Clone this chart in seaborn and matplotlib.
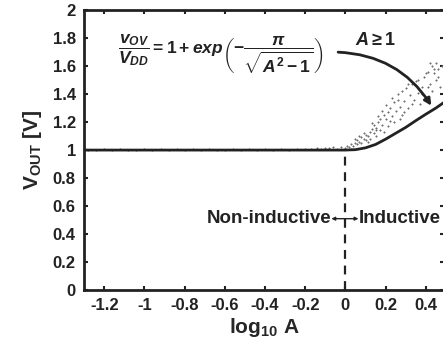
import numpy as np
import pandas as pd
import matplotlib
matplotlib.use('Agg')
import matplotlib.pyplot as plt
import seaborn as sns

# analytic curve, values
curve_x = [-1.3, -0.5, 0.0, 0.05, 0.1, 0.15, 0.2, 0.25, 0.3, 0.35, 0.4, 0.45, 0.5]
curve_y = [1.0, 1.0, 1.0, 1.003, 1.016, 1.04, 1.078, 1.12, 1.162, 1.21, 1.256, 1.30, 1.35]

# simulated points (grey dots)
flat_x = [-1.28, -1.24, -1.2, -1.16, -1.12, -1.08, -1.04, -1.0, -0.96, -0.92,
          -0.88, -0.84, -0.8, -0.76, -0.72, -0.68, -0.64, -0.6, -0.56, -0.52,
          -0.48, -0.44, -0.4, -0.36, -0.32, -0.28, -0.24, -0.2, -0.17, -0.14,
          -0.12, -0.1, -0.08, -0.06]
flat_y = [1.004, 1.0, 1.006, 1.002, 1.005, 0.999, 1.004, 1.007, 1.0, 1.005,
          1.003, 1.006, 1.001, 1.005, 1.002, 1.007, 1.0, 1.004, 1.006, 1.002,
          1.005, 1.003, 1.008, 1.001, 1.006, 1.004, 1.009, 1.007, 1.01, 1.012,
          1.008, 1.015, 1.012, 1.02]
rise_x = [-0.04, -0.02, 0.0, 0.01, 0.02, 0.03, 0.04, 0.05, 0.06, 0.06, 0.07, 0.08,
          0.08, 0.09, 0.10, 0.10, 0.11, 0.12, 0.12, 0.13, 0.14, 0.14, 0.15, 0.15,
          0.16, 0.17, 0.17, 0.18, 0.19, 0.19, 0.20, 0.21, 0.21, 0.22, 0.23, 0.24,
          0.24, 0.25, 0.26, 0.27, 0.28, 0.28, 0.29, 0.30, 0.31, 0.32, 0.33, 0.34,
          0.35, 0.36, 0.37, 0.38, 0.39, 0.40, 0.41, 0.42, 0.43, 0.43, 0.44, 0.45,
          0.45, 0.46, 0.47, 0.48,
          0.05, 0.09, 0.13, 0.16, 0.18, 0.20, 0.23, 0.26, 0.29, 0.31, 0.33, 0.36,
          0.38, 0.40, 0.42, 0.44, 0.46, 0.41, 0.27, 0.22, 0.11, 0.03, 0.07, 0.15]
rise_y = [1.01, 1.02, 1.015, 1.03, 1.02, 1.04, 1.03, 1.05, 1.04, 1.07, 1.06, 1.05,
          1.09, 1.08, 1.07, 1.11, 1.10, 1.13, 1.08, 1.15, 1.12, 1.18, 1.16, 1.10,
          1.20, 1.14, 1.22, 1.18, 1.25, 1.13, 1.22, 1.27, 1.17, 1.30, 1.24, 1.34,
          1.20, 1.28, 1.36, 1.31, 1.42, 1.25, 1.35, 1.44, 1.30, 1.39, 1.47, 1.36,
          1.49, 1.41, 1.33, 1.45, 1.52, 1.38, 1.56, 1.47, 1.60, 1.42, 1.55, 1.62,
          1.50, 1.58, 1.45, 1.60,
          1.08, 1.12, 1.19, 1.24, 1.28, 1.32, 1.37, 1.40, 1.27, 1.47, 1.33, 1.50,
          1.40, 1.55, 1.62, 1.58, 1.52, 1.45, 1.22, 1.21, 1.06, 1.01, 1.10, 1.14]

xticks = [-1.2, -1.0, -0.8, -0.6, -0.4, -0.2, 0.0, 0.2, 0.4]
xtick_labels = ['-1.2', '-1', '-0.8', '-0.6', '-0.4', '-0.2', '0', '0.2', '0.4']
yticks = [0, 0.2, 0.4, 0.6, 0.8, 1.0, 1.2, 1.4, 1.6, 1.8, 2.0]
ytick_labels = ['0', '0.2', '0.4', '0.6', '0.8', '1', '1.2', '1.4', '1.6', '1.8', '2']

sns.set_style('ticks')
plt.rcParams['font.family'] = ['Liberation Sans', 'DejaVu Sans']
plt.rcParams['font.weight'] = 'bold'
plt.rcParams['mathtext.fontset'] = 'custom'
plt.rcParams['mathtext.rm'] = 'Liberation Sans:bold'
plt.rcParams['mathtext.it'] = 'Liberation Sans:italic:bold'
plt.rcParams['mathtext.bf'] = 'Liberation Sans:bold'

fig = plt.figure(figsize=(4.43, 3.47), dpi=100)
ax = fig.add_axes([0.19, 0.164, 0.812, 0.807])

dots = pd.DataFrame({'x': flat_x + rise_x, 'y': flat_y + rise_y})
sns.scatterplot(data=dots, x='x', y='y', ax=ax, color='#707070', marker='+',
                s=4, linewidth=0.8, zorder=2)
sns.lineplot(x=curve_x, y=curve_y, ax=ax, color='#222222', linewidth=2, zorder=3)

ax.plot([0, 0], [0, 1.0], color='#222222', linestyle=(0, (4, 3)), linewidth=1.6)

ax.set_xlim(-1.3, 0.49)
ax.set_ylim(0, 2)
ax.set_xticks(xticks)
ax.set_xticklabels(xtick_labels, fontsize=12, fontweight='bold', color='#222222')
ax.set_yticks(yticks)
ax.set_yticklabels(ytick_labels, fontsize=12, fontweight='bold', color='#222222')
ax.tick_params(direction='in', top=True, right=True, length=3, width=1.5,
               color='#222222', pad=6)
for sp in ax.spines.values():
    sp.set_linewidth(2)
    sp.set_color('#222222')

ax.set_xlabel(r'log$_{\mathbf{10}}$ A', fontsize=15, fontweight='bold', labelpad=2)
ax.set_ylabel(r'V$_{\mathbf{OUT}}$ [V]', fontsize=15, fontweight='bold', labelpad=6)

ax.text(-0.62, 1.68,
        r'$\dfrac{v_{OV}}{V_{DD}} = 1+exp\left(-\dfrac{\pi}{\sqrt{A^2-1}}\right)$',
        fontsize=12.5, ha='center', va='center', color='#222222')
ax.text(0.05, 1.78, r'$A \geq 1$', fontsize=13, ha='left', va='center', color='#222222')
ax.annotate('', xy=(0.435, 1.30), xytext=(-0.05, 1.70),
            arrowprops=dict(arrowstyle='-|>', color='#222222', lw=2,
                            connectionstyle='arc3,rad=-0.27', mutation_scale=10))

ax.text(-0.07, 0.51, 'Non-inductive', fontsize=13.5, fontweight='bold',
        ha='right', va='center', color='#222222')
ax.text(0.065, 0.51, 'Inductive', fontsize=13.5, fontweight='bold',
        ha='left', va='center', color='#222222')
ax.annotate('', xy=(-0.07, 0.51), xytext=(0.065, 0.51),
            arrowprops=dict(arrowstyle='<|-|>', color='#222222', lw=1,
                            mutation_scale=5, shrinkA=0, shrinkB=0))

fig.savefig('out.png', dpi=100)
